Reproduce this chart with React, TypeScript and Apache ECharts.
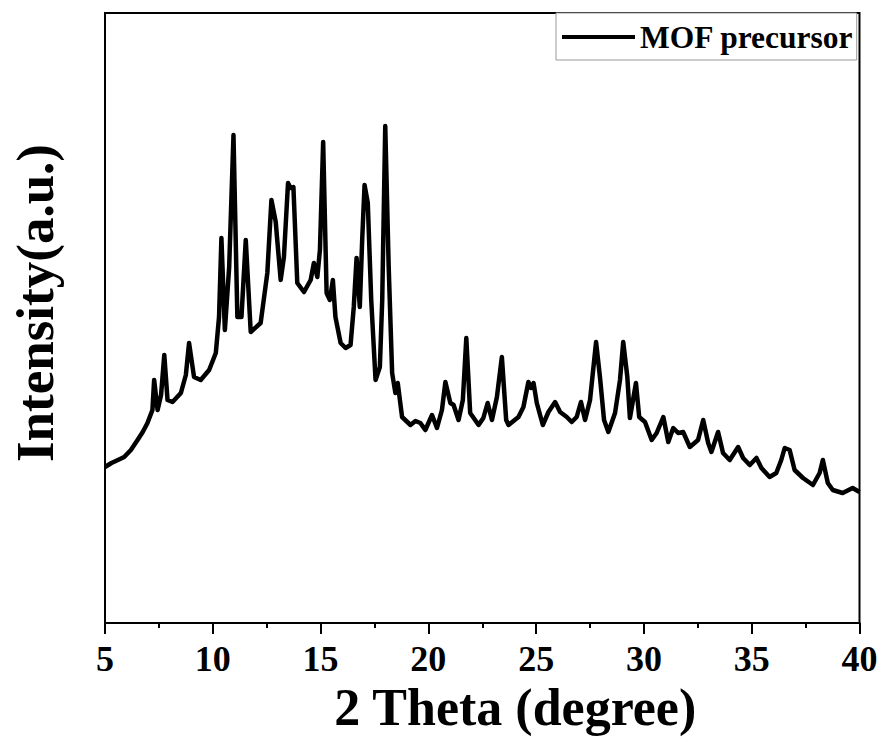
import React, { useEffect, useRef } from "react";
import * as echarts from "echarts";

const twoTheta = [
  5.0, 5.3, 5.6, 5.89, 6.2, 6.51, 6.75, 6.97, 7.2, 7.28, 7.44, 7.6, 7.75, 7.9, 8.13, 8.52, 8.75, 8.9,
  9.13, 9.44, 9.83, 10.14, 10.29, 10.4, 10.56, 10.76, 10.96, 11.14, 11.33, 11.53, 11.76, 12.22, 12.53,
  12.72, 12.92, 12.99, 13.15, 13.3, 13.49, 13.61, 13.74, 13.92, 14.23, 14.54, 14.69, 14.85, 14.97,
  15.12, 15.28, 15.43, 15.57, 15.69, 15.93, 16.16, 16.39, 16.54, 16.67, 16.82, 16.93, 17.04, 17.19,
  17.35, 17.55, 17.75, 17.86, 18.0, 18.16, 18.32, 18.47, 18.58, 18.78, 19.17, 19.4, 19.63, 19.86,
  20.17, 20.4, 20.63, 20.79, 21.02, 21.17, 21.4, 21.6, 21.76, 21.94, 22.33, 22.55, 22.75, 22.95,
  23.18, 23.41, 23.61, 23.72, 24.18, 24.41, 24.64, 24.76, 24.88, 25.03, 25.31, 25.57, 25.88, 26.11,
  26.42, 26.65, 26.88, 27.08, 27.27, 27.5, 27.78, 27.96, 28.15, 28.35, 28.66, 28.89, 29.04, 29.23,
  29.35, 29.63, 29.78, 30.05, 30.36, 30.59, 30.9, 31.13, 31.36, 31.59, 31.82, 32.13, 32.51, 32.75,
  32.98, 33.13, 33.44, 33.67, 33.98, 34.37, 34.6, 34.91, 35.22, 35.45, 35.83, 36.14, 36.37, 36.53,
  36.76, 36.99, 37.38, 37.84, 38.15, 38.3, 38.53, 38.76, 39.22, 39.68, 40.0,
];

const intensity = [
  156, 160, 163, 166, 173, 183, 191, 200, 213, 243, 213, 228, 268, 223, 221, 230, 248, 280,
  246, 243, 253, 270, 306, 385, 293, 356, 488, 306, 306, 383, 291, 300, 350,
  423, 401, 383, 343, 366, 440, 435, 436, 340, 331, 343, 360, 346, 373,
  481, 330, 323, 343, 306, 280, 275, 278, 316, 365, 316, 383, 438, 420,
  323, 243, 256, 323, 497, 356, 250, 230, 240, 206, 198, 202, 200, 193,
  208, 195, 213, 241, 220, 218, 203, 223, 285, 210, 198, 205, 220, 203,
  226, 266, 203, 198, 206, 216, 241, 235, 240, 220, 198, 211, 221, 211,
  206, 201, 206, 221, 203, 223, 281, 246, 203, 191, 210, 243, 281, 246,
  205, 240, 206, 201, 183, 190, 206, 181, 195, 190, 191, 176, 183, 203,
  180, 171, 191, 170, 163, 176, 165, 158, 165, 155, 146, 150, 163, 175,
  173, 153, 145, 138, 150, 163, 140, 133, 130, 135, 131,
];

const xTicks = [5, 10, 15, 20, 25, 30, 35, 40];
const seriesName = "MOF precursor";
const xTitle = "2 Theta (degree)";
const yTitle = "Intensity(a.u.)";

const FONT = "'Liberation Serif', 'Times New Roman', serif";

export default function App() {
  const ref = useRef<HTMLDivElement>(null);
  useEffect(() => {
    if (!ref.current) return;
    const chart = echarts.init(ref.current, null, { renderer: "svg" });
    const data = twoTheta.map((t, i) => [t, intensity[i]]);
    chart.setOption({
      animation: false,
      backgroundColor: "#fff",
      grid: {
        left: 104,
        top: 13,
        right: 25.5,
        bottom: 119,
        show: true,
        borderColor: "#000",
        borderWidth: 2,
        backgroundColor: "transparent",
      },
      legend: {
        left: 556,
        top: 13,
        data: [seriesName],
        backgroundColor: "#fff",
        borderColor: "#999",
        borderWidth: 1,
        borderRadius: 0,
        padding: [8, 3, 7, 6],
        itemWidth: 73,
        itemHeight: 20,
        icon: "path://M0,8 L73,8 L73,12 L0,12 Z",
        itemStyle: { color: "#000" },
        textStyle: { fontFamily: FONT, fontWeight: "bold", fontSize: 31.5, color: "#000" },
      },
      xAxis: {
        type: "value",
        min: xTicks[0],
        max: xTicks[xTicks.length - 1],
        interval: 5,
        name: xTitle,
        nameLocation: "middle",
        nameGap: 57,
        nameTextStyle: {
          fontFamily: FONT,
          fontWeight: "bold",
          fontSize: 52,
          color: "#000",
          padding: [0, 0, 0, 66],
        },
        axisLine: { show: true, onZero: false, lineStyle: { color: "#000", width: 2 } },
        axisTick: { show: true, inside: false, length: 11, lineStyle: { color: "#000", width: 2 } },
        minorTick: { show: true, splitNumber: 2, length: 5, lineStyle: { color: "#000", width: 2 } },
        axisLabel: {
          margin: 18,
          fontFamily: FONT,
          fontWeight: "bold",
          fontSize: 36,
          color: "#000",
        },
        splitLine: { show: false },
      },
      yAxis: {
        type: "value",
        min: 0,
        max: 610,
        name: yTitle,
        nameLocation: "middle",
        nameGap: 44,
        nameTextStyle: {
          fontFamily: FONT,
          fontWeight: "bold",
          fontSize: 53,
          color: "#000",
          padding: [0, 0, 0, 30],
        },
        axisLine: { show: true, lineStyle: { color: "#000", width: 2 } },
        axisTick: { show: false },
        axisLabel: { show: false },
        splitLine: { show: false },
      },
      series: [
        {
          name: seriesName,
          type: "line",
          data,
          symbol: "none",
          lineStyle: { color: "#000", width: 4.5, join: "round" },
          itemStyle: { color: "#000" },
        },
      ],
    });
    return () => chart.dispose();
  }, []);
  return <div ref={ref} style={{ width: 885, height: 742, position: "absolute", left: 0, top: 0 }} />;
}
